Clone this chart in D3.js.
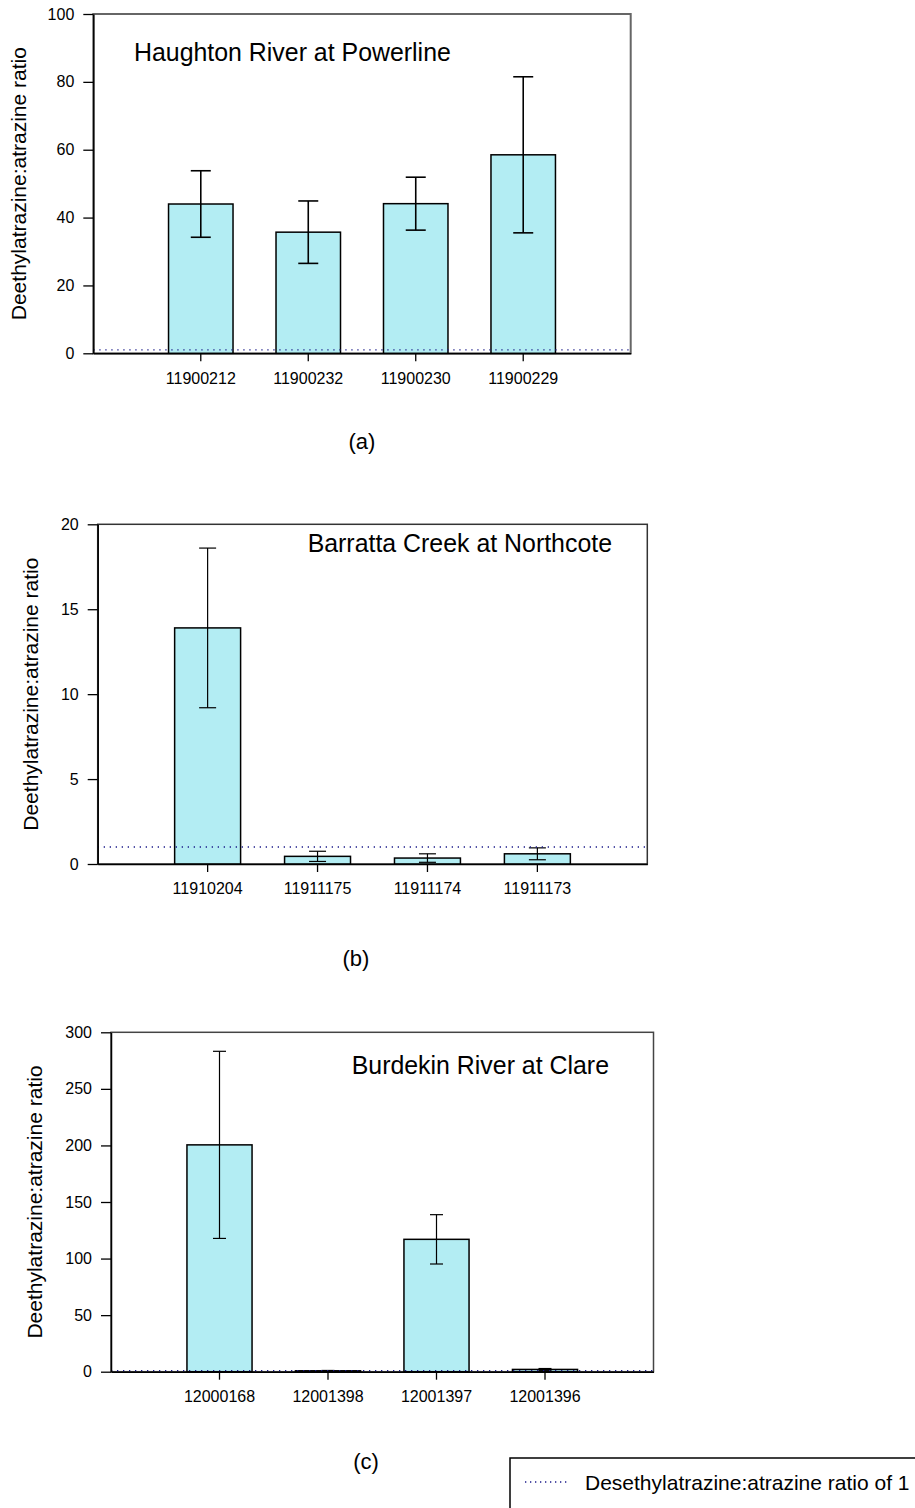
<!DOCTYPE html>
<html>
<head>
<meta charset="utf-8">
<script src="https://cdn.jsdelivr.net/npm/d3@7"></script>
<style>
  html, body { margin: 0; padding: 0; background: #fff; }
  svg { display: block; font-family: "Liberation Sans", Arial, sans-serif; }
</style>
</head>
<body>
<svg id="chart" width="915" height="1508"></svg>
<script>
// Deethylatrazine:atrazine ratios (mean and standard deviation) by sample
const sitesA = ["11900212", "11900232", "11900230", "11900229"];
const ratiosA = [44, 35.7, 44.1, 58.5];
const sdA = [9.8, 9.2, 7.8, 23];
const ticksA = [0, 20, 40, 60, 80, 100];

const sitesB = ["11910204", "11911175", "11911174", "11911173"];
const ratiosB = [13.9, 0.45, 0.35, 0.6];
const sdB = [4.7, 0.3, 0.25, 0.35];
const ticksB = [0, 5, 10, 15, 20];

const sitesC = ["12000168", "12001398", "12001397", "12001396"];
const ratiosC = [200.5, 0.8, 117, 2];
const sdC = [82.7, 0.3, 21.8, 0.8];
const ticksC = [0, 50, 100, 150, 200, 250, 300];

const titles = ["Haughton River at Powerline", "Barratta Creek at Northcote", "Burdekin River at Clare"];
const panelTags = ["(a)", "(b)", "(c)"];
const referenceRatio = 1;
const yLabel = "Deethylatrazine:atrazine ratio";
const legendText = "Desethylatrazine:atrazine ratio of 1";

const BAR_FILL = "#b3edf3";
const REF_COLOR = "#1b1b8a";

// Layout for each panel: plot box, title placement, tag placement
const panels = [
  { sites: sitesA, ratios: ratiosA, sd: sdA, ticks: ticksA,
    box: { x0: 93.3, x1: 630.7, y0: 14, y1: 353.3 },
    title: { x: 134, y: 61, anchor: "start" },
    ylab: 26, tag: { x: 362, y: 449 }, cap: 20, frame: "#666", frameW: 2 },
  { sites: sitesB, ratios: ratiosB, sd: sdB, ticks: ticksB,
    box: { x0: 97.7, x1: 647.3, y0: 524.3, y1: 864 },
    title: { x: 612, y: 552, anchor: "end" },
    ylab: 38, tag: { x: 356, y: 966 }, cap: 17, frame: "#333", frameW: 1.5 },
  { sites: sitesC, ratios: ratiosC, sd: sdC, ticks: ticksC,
    box: { x0: 111, x1: 653.5, y0: 1032.3, y1: 1371.7 },
    title: { x: 609, y: 1074, anchor: "end" },
    ylab: 42, tag: { x: 366, y: 1469 }, cap: 13, frame: "#444", frameW: 1.5 }
];

const svg = d3.select("#chart");

panels.forEach((p, i) => {
  const { x0, x1, y0, y1 } = p.box;
  const g = svg.append("g");

  const x = d3.scaleBand()
    .domain(p.sites)
    .range([x0, x1])
    .paddingInner(0.4)
    .paddingOuter(0.7);

  const y = d3.scaleLinear()
    .domain([d3.min(p.ticks), d3.max(p.ticks)])
    .range([y1, y0]);

  // plot frame (top and right edges)
  g.append("rect")
    .attr("x", x0).attr("y", y0)
    .attr("width", x1 - x0).attr("height", y1 - y0)
    .attr("fill", "none")
    .attr("stroke", p.frame)
    .attr("stroke-width", p.frameW);

  const rows = p.sites.map((s, k) => ({ site: s, v: p.ratios[k], sd: p.sd[k] }));

  // bars
  g.selectAll("rect.bar")
    .data(rows)
    .join("rect")
    .attr("class", "bar")
    .attr("x", d => x(d.site))
    .attr("y", d => y(d.v))
    .attr("width", x.bandwidth())
    .attr("height", d => y(0) - y(d.v))
    .attr("fill", BAR_FILL)
    .attr("stroke", "#000")
    .attr("stroke-width", 1.5);

  // error bars
  const eb = g.selectAll("g.err")
    .data(rows)
    .join("g")
    .attr("class", "err")
    .attr("transform", d => `translate(${x(d.site) + x.bandwidth() / 2},0)`)
    .attr("stroke", "#000")
    .attr("stroke-width", i === 0 ? 1.6 : 1.2);
  eb.append("line")
    .attr("y1", d => y(d.v + d.sd)).attr("y2", d => y(Math.max(0, d.v - d.sd)));
  eb.append("line")
    .attr("x1", -p.cap / 2).attr("x2", p.cap / 2)
    .attr("y1", d => y(d.v + d.sd)).attr("y2", d => y(d.v + d.sd));
  eb.append("line")
    .attr("x1", -p.cap / 2).attr("x2", p.cap / 2)
    .attr("y1", d => y(Math.max(0, d.v - d.sd))).attr("y2", d => y(Math.max(0, d.v - d.sd)));

  // reference line at ratio of 1
  g.append("line")
    .attr("x1", x0).attr("x2", x1)
    .attr("y1", y(referenceRatio)).attr("y2", y(referenceRatio))
    .attr("stroke", REF_COLOR)
    .attr("stroke-width", 1.3)
    .attr("stroke-dasharray", "1.3,4.7");

  // y axis
  const yAxis = g.append("g")
    .attr("transform", `translate(${x0},0)`)
    .call(d3.axisLeft(y).tickValues(p.ticks).tickFormat(d3.format("d"))
      .tickSize(10).tickSizeOuter(0).tickPadding(9));
  yAxis.select(".domain").attr("stroke", "#000").attr("stroke-width", 1.5);
  yAxis.selectAll(".tick line").attr("stroke", "#000").attr("stroke-width", 1.3);
  yAxis.selectAll(".tick text")
    .attr("font-size", 16).attr("fill", "#000")
    .attr("font-family", "Liberation Sans, Arial, sans-serif");

  // x axis
  const xAxis = g.append("g")
    .attr("transform", `translate(0,${y1})`)
    .call(d3.axisBottom(x).tickSize(8).tickSizeOuter(0).tickPadding(11));
  xAxis.select(".domain").attr("stroke", "#000").attr("stroke-width", 1.5);
  xAxis.selectAll(".tick line").attr("stroke", "#000").attr("stroke-width", 1.3);
  xAxis.selectAll(".tick text")
    .attr("font-size", 16).attr("fill", "#000")
    .attr("font-family", "Liberation Sans, Arial, sans-serif");

  // y axis label
  g.append("text")
    .attr("transform", `translate(${p.ylab},${(y0 + y1) / 2}) rotate(-90)`)
    .attr("text-anchor", "middle")
    .attr("font-size", 21)
    .text(yLabel);

  // panel title
  g.append("text")
    .attr("x", p.title.x).attr("y", p.title.y)
    .attr("text-anchor", p.title.anchor)
    .attr("font-size", 24.9)
    .text(titles[i]);

  // panel tag
  g.append("text")
    .attr("x", p.tag.x).attr("y", p.tag.y)
    .attr("text-anchor", "middle")
    .attr("font-size", 22)
    .text(panelTags[i]);
});

// legend
const lg = svg.append("g");
lg.append("rect")
  .attr("x", 510).attr("y", 1458)
  .attr("width", 420).attr("height", 70)
  .attr("fill", "#fff")
  .attr("stroke", "#000")
  .attr("stroke-width", 1.5);
lg.append("line")
  .attr("x1", 525).attr("x2", 568)
  .attr("y1", 1482).attr("y2", 1482)
  .attr("stroke", REF_COLOR)
  .attr("stroke-width", 1.3)
  .attr("stroke-dasharray", "1.3,3.7");
lg.append("text")
  .attr("x", 585).attr("y", 1490)
  .attr("font-size", 21)
  .text(legendText);
</script>
</body>
</html>
